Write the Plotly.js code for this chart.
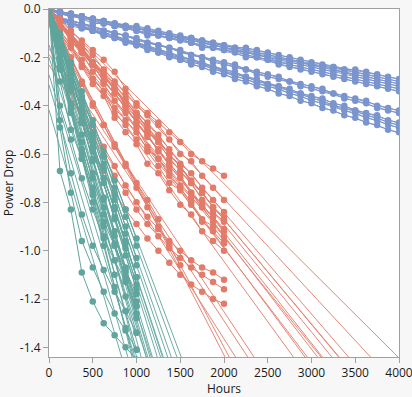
<!DOCTYPE html>
<html>
<head>
<meta charset="utf-8">
<script src="https://cdn.plot.ly/plotly-3.0.1.min.js"></script>
<style>html,body{margin:0;padding:0;background:#f7f7f7;}#chart{width:412px;height:397px;}</style>
</head>
<body>
<div id="chart"></div>
<script>
// Measurement times (hours)
const hours = [0,125,250,375,500,625,750,875,1000,1125,1250,1375,1500,1625,1750,1875,2000,
  2125,2250,2375,2500,2625,2750,2875,3000,3125,3250,3375,3500,3625,3750,3875,4000];

// Blue group (measured to 4000 h)
const blueUnits = [
  [0,-.01,-.02,-.03,-.04,-.05,-.06,-.07,-.07,-.08,-.09,-.10,-.11,-.12,-.13,-.14,-.15,-.16,-.16,-.17,-.18,-.19,-.20,-.21,-.22,-.23,-.24,-.25,-.25,-.26,-.27,-.28,-.29],
  [0,-.01,-.02,-.03,-.04,-.05,-.06,-.07,-.08,-.09,-.10,-.11,-.12,-.12,-.13,-.14,-.15,-.16,-.17,-.18,-.19,-.20,-.21,-.22,-.23,-.24,-.24,-.25,-.26,-.27,-.28,-.29,-.30],
  [0,-.02,-.02,-.03,-.04,-.05,-.06,-.07,-.08,-.09,-.10,-.11,-.12,-.13,-.14,-.15,-.16,-.17,-.18,-.19,-.20,-.21,-.21,-.22,-.23,-.24,-.25,-.26,-.27,-.28,-.29,-.30,-.31],
  [0,-.01,-.02,-.03,-.04,-.05,-.07,-.07,-.08,-.09,-.10,-.11,-.12,-.12,-.14,-.15,-.16,-.17,-.18,-.19,-.20,-.22,-.22,-.23,-.24,-.25,-.26,-.26,-.28,-.29,-.30,-.31,-.32],
  [0,-.02,-.03,-.03,-.05,-.06,-.07,-.07,-.09,-.10,-.11,-.12,-.12,-.14,-.15,-.16,-.17,-.17,-.19,-.20,-.21,-.22,-.23,-.24,-.25,-.26,-.27,-.28,-.29,-.30,-.31,-.32,-.33],
  [0,-.02,-.03,-.04,-.06,-.06,-.07,-.08,-.09,-.11,-.11,-.12,-.13,-.14,-.16,-.16,-.17,-.18,-.20,-.20,-.21,-.23,-.24,-.25,-.26,-.27,-.28,-.29,-.30,-.31,-.32,-.33,-.34],
  [0,-.04,-.05,-.06,-.07,-.09,-.10,-.11,-.12,-.14,-.15,-.16,-.17,-.19,-.20,-.21,-.22,-.23,-.25,-.26,-.27,-.28,-.30,-.31,-.32,-.33,-.35,-.36,-.37,-.38,-.40,-.41,-.42],
  [0,-.04,-.05,-.06,-.08,-.09,-.10,-.11,-.13,-.14,-.15,-.16,-.18,-.19,-.20,-.22,-.23,-.24,-.25,-.27,-.28,-.29,-.30,-.32,-.33,-.34,-.35,-.37,-.38,-.39,-.41,-.42,-.43],
  [0,-.04,-.06,-.07,-.09,-.10,-.11,-.13,-.14,-.15,-.17,-.18,-.20,-.21,-.22,-.24,-.25,-.26,-.28,-.29,-.31,-.32,-.33,-.35,-.36,-.37,-.39,-.40,-.42,-.43,-.44,-.46,-.47],
  [0,-.05,-.06,-.07,-.09,-.10,-.11,-.13,-.14,-.16,-.17,-.19,-.20,-.21,-.23,-.24,-.26,-.27,-.28,-.30,-.31,-.32,-.34,-.35,-.37,-.38,-.40,-.41,-.42,-.44,-.45,-.47,-.48],
  [0,-.05,-.06,-.08,-.09,-.11,-.12,-.13,-.15,-.16,-.18,-.19,-.21,-.22,-.23,-.25,-.26,-.28,-.29,-.31,-.32,-.33,-.35,-.36,-.38,-.39,-.40,-.42,-.43,-.45,-.46,-.48,-.49],
  [0,-.05,-.07,-.08,-.09,-.11,-.12,-.14,-.15,-.17,-.18,-.20,-.21,-.23,-.24,-.26,-.27,-.29,-.30,-.32,-.33,-.35,-.36,-.38,-.39,-.41,-.42,-.44,-.45,-.47,-.48,-.50,-.51]
];

// Red group (measured to 2000 h)
const redUnits = [
  [0,-.04,-.09,-.13,-.17,-.21,-.26,-.33,-.39,-.43,-.47,-.51,-.55,-.60,-.63,-.66,-.69],
  [0,-.06,-.11,-.15,-.19,-.25,-.30,-.35,-.40,-.44,-.48,-.54,-.60,-.63,-.69,-.74,-.79],
  [0,-.06,-.10,-.16,-.22,-.26,-.31,-.37,-.43,-.47,-.52,-.58,-.64,-.68,-.74,-.79,-.84],
  [0,-.06,-.12,-.16,-.23,-.27,-.33,-.39,-.43,-.50,-.55,-.60,-.65,-.72,-.76,-.82,-.86],
  [0,-.05,-.12,-.17,-.23,-.28,-.33,-.40,-.45,-.51,-.55,-.62,-.67,-.72,-.79,-.84,-.88],
  [0,-.09,-.15,-.21,-.29,-.34,-.41,-.46,-.51,-.58,-.62,-.67,-.73,-.78,-.82,-.86,-.91],
  [0,-.06,-.13,-.18,-.23,-.30,-.35,-.40,-.47,-.52,-.59,-.64,-.69,-.76,-.81,-.86,-.92],
  [0,-.09,-.15,-.23,-.29,-.34,-.43,-.48,-.54,-.59,-.65,-.72,-.75,-.81,-.87,-.90,-.96],
  [0,-.07,-.13,-.18,-.26,-.31,-.38,-.43,-.49,-.57,-.62,-.69,-.74,-.80,-.88,-.92,-.97],
  [0,-.10,-.16,-.24,-.31,-.36,-.45,-.51,-.56,-.64,-.68,-.75,-.81,-.85,-.92,-.96,-1.00],
  [0,-.13,-.26,-.37,-.48,-.57,-.65,-.73,-.80,-.86,-.91,-.96,-1.00,-1.04,-1.07,-1.09,-1.12],
  [0,-.15,-.29,-.41,-.52,-.61,-.69,-.76,-.83,-.89,-.94,-.99,-1.03,-1.07,-1.10,-1.13,-1.16],
  [0,-.20,-.34,-.47,-.58,-.67,-.76,-.83,-.89,-.95,-1.00,-1.05,-1.10,-1.14,-1.17,-1.20,-1.22],
  [0,-.12,-.22,-.31,-.40,-.48,-.56,-.64,-.72,-.79,-.87],
  [0,-.10,-.20,-.30,-.39,-.48,-.57,-.65,-.74,-.82,-.90,-.98,-1.06],
  [0,-.05,-.12,-.18,-.23,-.30,-.35,-.41,-.47,-.53,-.58,-.65,-.70,-.76,-.82,-.88,-.94],
  [0,-.06,-.11,-.16,-.22,-.27,-.33,-.38,-.44,-.49,-.54,-.60,-.65,-.71,-.76,-.82,-.87]
];

// Teal group (measured to 1000 h)
const tealUnits = [
  [0,-.67,-.83,-1.09,-1.21,-1.30,-1.35,-1.40,-1.45],
  [0,-.49,-.76,-.96,-1.07,-1.17,-1.26,-1.33,-1.41],
  [0,-.46,-.68,-.85,-.98,-1.08,-1.17,-1.25,-1.34],
  [0,-.40,-.54,-.70,-.83,-.95,-1.04,-1.13,-1.23],
  [0,-.30,-.50,-.62,-.76,-.88,-.98,-1.08,-1.18],
  [0,-.15,-.28,-.42,-.57,-.70,-.82,-.96,-1.11],
  [0,-.20,-.33,-.45,-.59,-.72,-.86,-.99,-1.14],
  [0,-.18,-.40,-.55,-.70,-.85,-.98,-1.12,-1.28],
  [0,-.22,-.41,-.58,-.74,-.90,-1.04,-1.19,-1.34],
  [0,-.25,-.42,-.60,-.77,-.94,-1.10,-1.25,-1.41],
  [0,-.24,-.43,-.62,-.80,-.98,-1.15,-1.32,-1.49],
  [0,-.12,-.30,-.47,-.63,-.79,-.94,-1.09,-1.23],
  [0,-.16,-.39,-.52,-.68,-.82,-.97,-1.11,-1.26],
  [0,-.10,-.22,-.34,-.46,-.59,-.71,-.83,-.95],
  [0,-.11,-.23,-.36,-.48,-.61,-.74,-.86,-.98],
  [0,-.12,-.25,-.38,-.51,-.64,-.77,-.90,-1.03],
  [0,-.12,-.26,-.39,-.53,-.66,-.79,-.93,-1.06],
  [0,-.14,-.27,-.41,-.55,-.70,-.83,-.97,-1.11],
  [0,-.13,-.28,-.43,-.58,-.72,-.87,-1.02,-1.16],
  [0,-.17,-.32,-.47,-.62,-.78,-.92,-1.07,-1.21]
];

const xTickVals = [0,500,1000,1500,2000,2500,3000,3500,4000];
const xTickLabels = ['0','500','1000','1500','2000','2500','3000','3500','4000'];
const yTickVals = [0,-0.2,-0.4,-0.6,-0.8,-1.0,-1.2,-1.4];
const yTickLabels = ['0.0','-0.2','-0.4','-0.6','-0.8','-1.0','-1.2','-1.4'];

const colors = {blue:'#7a94cd', red:'#e27b69', teal:'#5fa59d'};

// least-squares line per unit
function fitLine(vals){
  const n = vals.length;
  let sx=0, sy=0;
  for(let i=0;i<n;i++){ sx+=hours[i]; sy+=vals[i]; }
  const mx=sx/n, my=sy/n;
  let sxy=0, sxx=0;
  for(let i=0;i<n;i++){ sxy+=(hours[i]-mx)*(vals[i]-my); sxx+=(hours[i]-mx)*(hours[i]-mx); }
  const b=sxy/sxx; return {a:my-b*mx, b:b};
}

function groupTraces(units, color){
  const px=[], py=[], fx=[], fy=[];
  const xmax = hours[hours.length-1];
  units.forEach(v=>{
    v.forEach((y,i)=>{ px.push(hours[i]); py.push(y); });
    px.push(null); py.push(null);
    const f = fitLine(v);
    fx.push(0, xmax, null); fy.push(f.a, f.a+f.b*xmax, null);
  });
  return [
    {type:'scatter', x:fx, y:fy, mode:'lines', line:{color:color, width:1}, opacity:0.9, hoverinfo:'skip', connectgaps:false},
    {type:'scatter', x:px, y:py, mode:'lines+markers', line:{color:color, width:1}, marker:{color:color, size:6.5}, connectgaps:false}
  ];
}

const data = [].concat(
  groupTraces(blueUnits, colors.blue),
  groupTraces(redUnits, colors.red),
  groupTraces(tealUnits, colors.teal)
);

const axisCommon = {
  showgrid:false, zeroline:false, showline:true, linecolor:'#a0a0a0', linewidth:1, mirror:true,
  ticks:'outside', ticklen:5, tickcolor:'#a0a0a0', tickfont:{size:12, color:'#1a1a1a'},
  ticklabeloverflow:'allow'
};

const layout = {
  width:412, height:397,
  margin:{l:49, r:13, t:9, b:40},
  paper_bgcolor:'#f7f7f7', plot_bgcolor:'#ffffff',
  showlegend:false,
  font:{family:'"Open Sans", "Noto Sans", sans-serif', size:12, color:'#1a1a1a'},
  xaxis:Object.assign({}, axisCommon, {range:[0,4000], tickvals:xTickVals, ticktext:xTickLabels,
    title:{text:'Hours', font:{size:12}, standoff:4}}),
  yaxis:Object.assign({}, axisCommon, {range:[-1.44,0], tickvals:yTickVals, ticktext:yTickLabels,
    title:{text:'Power Drop', font:{size:12}, standoff:6}})
};

Plotly.newPlot('chart', data, layout, {displayModeBar:false, staticPlot:true});
</script>
</body>
</html>
